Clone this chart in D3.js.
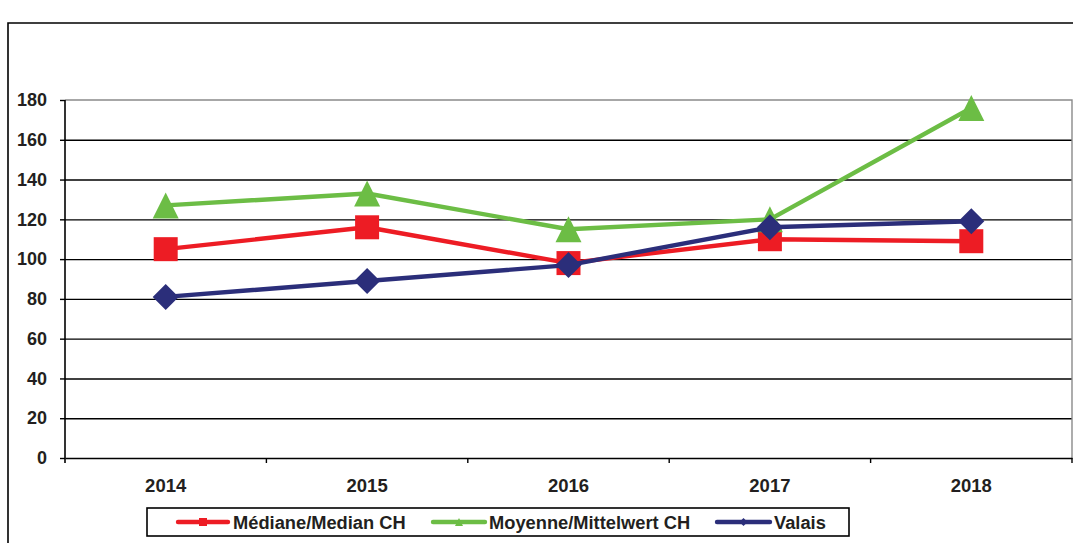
<!DOCTYPE html>
<html>
<head>
<meta charset="utf-8">
<script src="https://cdn.jsdelivr.net/npm/d3@7"></script>
<style>
  html, body { margin: 0; padding: 0; background: #fff; }
  svg { display: block; }
  text { font-family: "Liberation Sans", Arial, sans-serif; font-weight: bold; fill: #231f20; }
</style>
</head>
<body>
<svg id="chart" width="1073" height="543"></svg>
<script>
// Years on the category axis
const years = ["2014", "2015", "2016", "2017", "2018"];
// Series values per year
const medianCH = [105, 116, 98, 110, 109];
const meanCH   = [127, 133, 115, 120, 176];
const valais   = [81, 89, 97, 116, 119];
// Value axis ticks
const yTicks = [0, 20, 40, 60, 80, 100, 120, 140, 160, 180];
// Legend labels
const seriesNames = ["Médiane/Median CH", "Moyenne/Mittelwert CH", "Valais"];

const svg = d3.select("#chart");
const W = 1073, H = 543;
const plot = { left: 65, right: 1072, top: 100, bottom: 458 };

// Outer frame (top and left edges visible)
svg.append("path")
  .attr("d", `M8,${H} L8,23 L${W},23`)
  .attr("fill", "none").attr("stroke", "#000").attr("stroke-width", 1.6);

const x = d3.scaleBand().domain(years).range([plot.left, plot.right]).padding(0);
const y = d3.scaleLinear().domain([0, 180]).range([plot.bottom, plot.top]);

// Horizontal gridlines
const grid = svg.append("g").attr("transform", `translate(${plot.left},0)`)
  .call(d3.axisLeft(y).tickValues(yTicks.filter(v => v > 0 && v < 180))
    .tickSize(-(plot.right - plot.left)).tickFormat(""));
grid.select(".domain").remove();
grid.selectAll(".tick line").attr("stroke", "#000").attr("stroke-width", 1.4);

// Plot area border: top and right edges in grey
svg.append("path")
  .attr("d", `M${plot.left},${y(180)} L${plot.right},${y(180)} L${plot.right},${plot.bottom}`)
  .attr("fill", "none").attr("stroke", "#8a8a8a").attr("stroke-width", 1.4);

// Value axis
const yAxis = svg.append("g").attr("transform", `translate(${plot.left},0)`)
  .call(d3.axisLeft(y).tickValues(yTicks).tickSize(5).tickPadding(13).tickSizeOuter(0));
yAxis.select(".domain").attr("stroke", "#000").attr("stroke-width", 1.6)
  .attr("d", `M0,${plot.top} V${plot.bottom + 5}`);
yAxis.selectAll(".tick line").attr("stroke", "#000").attr("stroke-width", 1.4);
yAxis.selectAll(".tick text").attr("font-size", 18).attr("fill", "#231f20")
  .style("font-family", '"Liberation Sans", Arial, sans-serif').style("font-weight", "bold");

// Category axis: ticks at category boundaries, labels at centres
const xAxis = svg.append("g").attr("transform", `translate(0,${plot.bottom})`)
  .call(d3.axisBottom(x).tickSize(0).tickPadding(21).tickSizeOuter(0));
xAxis.select(".domain").attr("stroke", "#000").attr("stroke-width", 1.6);
xAxis.selectAll(".tick text").attr("font-size", 18.5).attr("fill", "#231f20")
  .style("font-family", '"Liberation Sans", Arial, sans-serif').style("font-weight", "bold");
const bounds = years.map(d => x(d) + x.bandwidth());
xAxis.selectAll("line.bound").data(bounds).join("line").attr("class", "bound")
  .attr("x1", d => d).attr("x2", d => d).attr("y1", 0).attr("y2", 5)
  .attr("stroke", "#000").attr("stroke-width", 1.4);

// Marker shapes
const triangleType = { draw(ctx, size) {
  const h = Math.sqrt(size), w = h * 1.0;
  ctx.moveTo(0, -h / 2); ctx.lineTo(w / 2, h / 2); ctx.lineTo(-w / 2, h / 2); ctx.closePath();
}};
const diamondType = { draw(ctx, size) {
  const r = Math.sqrt(size) / 2;
  ctx.moveTo(0, -r); ctx.lineTo(r, 0); ctx.lineTo(0, r); ctx.lineTo(-r, 0); ctx.closePath();
}};
const squareType = { draw(ctx, size) {
  const r = Math.sqrt(size) / 2;
  ctx.rect(-r, -r, 2 * r, 2 * r);
}};

const series = [
  { name: seriesNames[0], values: medianCH, color: "#ed1c24", type: squareType, size: 24 * 24 },
  { name: seriesNames[1], values: meanCH,   color: "#6cbd45", type: triangleType, size: 26 * 26 },
  { name: seriesNames[2], values: valais,   color: "#2b2e7a", type: diamondType, size: 26 * 26 }
];

const cx = d => x(d) + x.bandwidth() / 2;
const line = d3.line().x((v, i) => cx(years[i])).y(v => y(v));

series.forEach(s => {
  svg.append("path").datum(s.values)
    .attr("d", line).attr("fill", "none")
    .attr("stroke", s.color).attr("stroke-width", 4.4).attr("stroke-linejoin", "round");
  svg.append("g").selectAll("path").data(s.values).join("path")
    .attr("transform", (v, i) => `translate(${cx(years[i])},${y(v)})`)
    .attr("d", d3.symbol().type(s.type).size(s.size)())
    .attr("fill", s.color);
});

// Legend
const legend = svg.append("g");
legend.append("rect").attr("x", 147).attr("y", 508).attr("width", 702).attr("height", 28)
  .attr("fill", "#fff").attr("stroke", "#000").attr("stroke-width", 1.6);
const legendItems = [
  { x0: 178, x1: 228, tx: 233 },
  { x0: 433, x1: 485, tx: 489 },
  { x0: 717, x1: 770, tx: 774 }
];
series.forEach((s, i) => {
  const it = legendItems[i];
  const ly = 522;
  legend.append("line").attr("x1", it.x0).attr("x2", it.x1).attr("y1", ly).attr("y2", ly)
    .attr("stroke", s.color).attr("stroke-width", 4.4).attr("stroke-linecap", "round");
  legend.append("path")
    .attr("transform", `translate(${(it.x0 + it.x1) / 2},${ly})`)
    .attr("d", d3.symbol().type(s.type).size(64)())
    .attr("fill", s.color);
  legend.append("text").attr("x", it.tx).attr("y", ly + 7)
    .attr("font-size", 18.3).text(s.name);
});
</script>
</body>
</html>
